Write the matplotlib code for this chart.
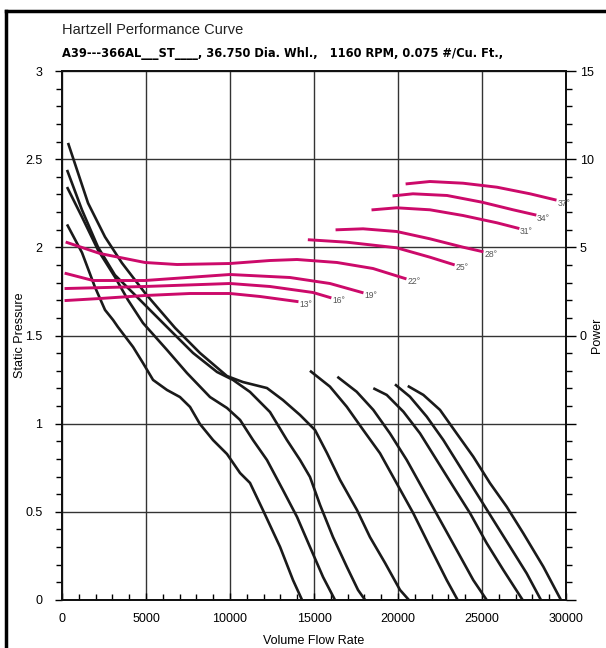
import matplotlib.pyplot as plt
from matplotlib.lines import Line2D
from matplotlib.ticker import MultipleLocator, FuncFormatter

plt.rcParams['font.family'] = ['Liberation Sans', 'DejaVu Sans']

# static pressure curves, left group (flow in cfm, pressure in in. wg)
flow_d = [300, 1190, 1960, 2560, 3040, 3330, 4230, 4820, 5420, 6250, 7020, 7620, 8210, 8990,
          9820, 10600, 11190, 11960, 12980, 13750, 14290]
sp_d = [2.13, 1.97, 1.775, 1.645, 1.588, 1.548, 1.435, 1.344, 1.248, 1.191, 1.151, 1.095, 0.998,
        0.907, 0.828, 0.72, 0.664, 0.51, 0.301, 0.113, 0.0]
flow_c = [300, 1190, 2140, 3150, 3930, 4820, 6250, 7440, 8810, 9820, 10600, 11370, 12200, 13150,
          13990, 14760, 15540, 16250]
sp_c = [2.342, 2.172, 1.985, 1.832, 1.701, 1.571, 1.418, 1.287, 1.151, 1.089, 1.021, 0.907, 0.794,
        0.624, 0.471, 0.301, 0.13, 0.0]
flow_b = [300, 1190, 2140, 3150, 4230, 6250, 7800, 9230, 10180, 11190, 12380, 13390, 14170, 14760,
          15360, 16130, 16960, 17620, 18040]
sp_b = [2.439, 2.212, 2.002, 1.843, 1.741, 1.548, 1.401, 1.293, 1.248, 1.18, 1.066, 0.907, 0.794,
        0.698, 0.539, 0.357, 0.187, 0.057, 0.0]
flow_a = [360, 1550, 2560, 3570, 4940, 6730, 8210, 9820, 10770, 12200, 13150, 14170, 15060, 15770,
          16550, 17560, 18330, 19230, 20120, 20650]
sp_a = [2.592, 2.251, 2.059, 1.911, 1.741, 1.543, 1.401, 1.27, 1.236, 1.202, 1.134, 1.049, 0.964,
        0.834, 0.681, 0.51, 0.357, 0.21, 0.057, 0.0]

# static pressure curves, right group
flow_r1 = [14760, 15950, 16950, 17930, 18930, 19920, 20910, 21900, 22900, 23550]
sp_r1 = [1.30, 1.21, 1.096, 0.964, 0.832, 0.662, 0.492, 0.302, 0.113, 0.0]
flow_r2 = [16390, 17540, 18530, 19520, 20520, 21510, 22500, 23490, 24480, 25280]
sp_r2 = [1.266, 1.181, 1.078, 0.945, 0.794, 0.624, 0.454, 0.284, 0.113, 0.0]
flow_r3 = [18530, 19330, 20320, 21310, 22300, 23290, 24290, 25280, 26270, 27420]
sp_r3 = [1.201, 1.163, 1.068, 0.945, 0.794, 0.643, 0.492, 0.322, 0.17, 0.0]
flow_r4 = [19820, 20710, 21710, 22700, 23690, 24680, 25670, 26670, 27660, 28510]
sp_r4 = [1.223, 1.153, 1.04, 0.907, 0.756, 0.605, 0.454, 0.302, 0.151, 0.0]
flow_r5 = [20580, 21510, 22500, 23490, 24480, 25480, 26470, 27460, 28650, 29700]
sp_r5 = [1.214, 1.163, 1.078, 0.945, 0.813, 0.662, 0.529, 0.378, 0.189, 0.0]

# power curves by blade angle
angles = ['13°', '16°', '19°', '22°', '25°', '28°', '31°', '34°', '37°']
pw_flow_13 = [240, 2260, 4940, 7620, 10000, 11790, 13990]
pw_13 = [1.985, 2.098, 2.268, 2.382, 2.382, 2.212, 1.928]
pw_flow_16 = [240, 4940, 10000, 12380, 14940, 15950]
pw_16 = [2.665, 2.779, 2.949, 2.779, 2.439, 2.155]
pw_flow_19 = [240, 1850, 4940, 10000, 13570, 15950, 17860]
pw_19 = [3.516, 3.119, 3.119, 3.459, 3.289, 2.949, 2.439]
pw_flow_22 = [300, 2260, 4940, 6850, 10000, 12380, 13990, 16370, 18510, 20420]
pw_22 = [5.274, 4.65, 4.14, 4.026, 4.083, 4.253, 4.31, 4.14, 3.8, 3.233]
pw_flow_25 = [14720, 16950, 19920, 21900, 23290]
pw_25 = [5.427, 5.291, 4.974, 4.441, 4.027]
pw_flow_28 = [16370, 17920, 19920, 21900, 23870, 25000]
pw_28 = [5.995, 6.051, 5.898, 5.484, 5.008, 4.764]
pw_flow_31 = [18510, 19920, 21900, 23870, 25890, 27140]
pw_31 = [7.129, 7.242, 7.129, 6.805, 6.391, 6.085]
pw_flow_34 = [19760, 20890, 22920, 25000, 26850, 28150]
pw_34 = [7.923, 8.036, 7.94, 7.56, 7.129, 6.845]
pw_flow_37 = [20540, 21900, 23870, 25890, 27860, 29350]
pw_37 = [8.603, 8.733, 8.637, 8.41, 8.036, 7.696]

pressure_curves = [(flow_a, sp_a), (flow_b, sp_b), (flow_c, sp_c), (flow_d, sp_d),
                   (flow_r1, sp_r1), (flow_r2, sp_r2), (flow_r3, sp_r3), (flow_r4, sp_r4),
                   (flow_r5, sp_r5)]
power_curves = [(pw_flow_13, pw_13), (pw_flow_16, pw_16), (pw_flow_19, pw_19), (pw_flow_22, pw_22),
                (pw_flow_25, pw_25), (pw_flow_28, pw_28), (pw_flow_31, pw_31), (pw_flow_34, pw_34),
                (pw_flow_37, pw_37)]

fig = plt.figure(figsize=(6.06, 6.48), dpi=100)
ax = fig.add_axes([62 / 606, 48 / 648, 504 / 606, 529 / 648])
ax2 = ax.twinx()

ax.set_xlim(0, 30000)
ax.set_ylim(0, 3)
ax2.set_ylim(-15, 15)

ax.grid(True, which='major', color='#333333', lw=1.0)
ax.set_axisbelow(True)

for fl, sp in pressure_curves:
    ax.plot(fl, sp, color='#1a1a1a', lw=1.9, solid_joinstyle='round', solid_capstyle='butt', zorder=3)

pink = '#cc0a6a'
for (fl, pw), lab in zip(power_curves, angles):
    ax2.plot(fl, pw, color=pink, lw=2.1, solid_joinstyle='round', zorder=4)
    ax2.annotate(lab, (fl[-1], pw[-1]), xytext=(1.5, -2.5), textcoords='offset points',
                 ha='left', va='center', fontsize=6.2, color='#555555')

ax.xaxis.set_major_locator(MultipleLocator(5000))
ax.xaxis.set_minor_locator(MultipleLocator(1000))
ax.yaxis.set_major_locator(MultipleLocator(0.5))
ax.yaxis.set_minor_locator(MultipleLocator(0.1))
ax.yaxis.set_major_formatter(FuncFormatter(lambda v, p: '%g' % v))
ax2.yaxis.set_major_locator(MultipleLocator(5))
ax2.yaxis.set_minor_locator(MultipleLocator(1))
ax2.yaxis.set_major_formatter(FuncFormatter(lambda v, p: '%g' % v if v >= 0 else ''))

ax.tick_params(axis='x', which='major', direction='in', length=5, width=1, labelsize=9, pad=9)
ax.tick_params(axis='x', which='minor', direction='in', length=4, width=1)
ax.tick_params(axis='y', which='major', direction='out', length=5, width=1, labelsize=9, pad=9)
ax.tick_params(axis='y', which='minor', direction='out', length=4, width=1)
ax2.tick_params(axis='y', which='major', direction='out', length=7, width=1, labelsize=9, pad=3)
ax2.tick_params(axis='y', which='minor', direction='out', length=4, width=1)

for a in (ax, ax2):
    for s in a.spines.values():
        s.set_linewidth(1.3)
        s.set_color('#111111')

ax.set_xlabel('Volume Flow Rate', fontsize=9)
ax.xaxis.set_label_coords(0.5, -0.066)
ax.set_ylabel('Static Pressure', fontsize=9)
ax.yaxis.set_label_coords(-0.071, 0.5)
ax2.set_ylabel('Power', fontsize=9)
ax2.yaxis.set_label_coords(1.049, 0.5)

fig.text(62 / 606, 1 - 30 / 648, 'Hartzell Performance Curve', fontsize=10.5, va='center', ha='left',
         color='#222222')
fig.text(62 / 606, 1 - 53 / 648,
         'A39---366AL___ST____, 36.750 Dia. Whl.,   1160 RPM, 0.075 #/Cu. Ft.,',
         fontsize=9.2, fontweight='bold', va='center', ha='left',
         family='DejaVu Sans', fontstretch='condensed')

# outer page frame
fig.add_artist(Line2D([6 / 606, 1.02], [1 - 11 / 648] * 2, transform=fig.transFigure,
                      color='black', lw=2.5))
fig.add_artist(Line2D([6 / 606] * 2, [-0.02, 1 - 11 / 648], transform=fig.transFigure,
                      color='black', lw=2.5))

fig.savefig('out.png', dpi=100)
